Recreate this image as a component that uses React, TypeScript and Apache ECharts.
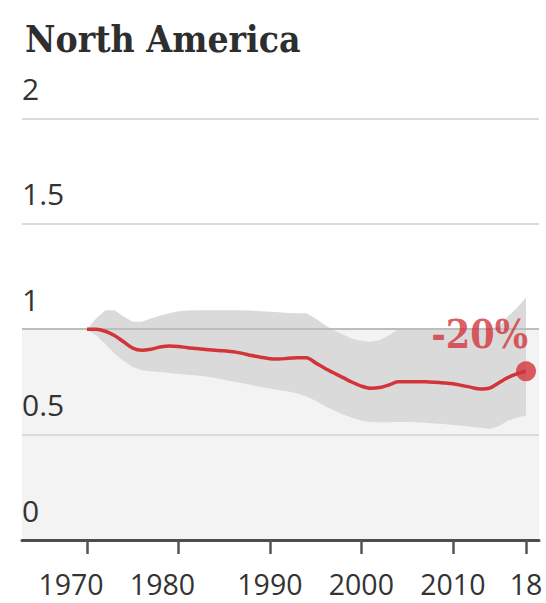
import React, { useEffect, useRef } from "react";
import * as echarts from "echarts";

const chartTitle = "North America";
const endLabel = "-20%";

const years = [
  1970, 1971, 1972, 1973, 1974, 1975, 1976, 1977, 1978, 1979,
  1980, 1981, 1982, 1983, 1984, 1985, 1986, 1987, 1988, 1989,
  1990, 1991, 1992, 1993, 1994, 1995, 1996, 1997, 1998, 1999,
  2000, 2001, 2002, 2003, 2004, 2005, 2006, 2007, 2008, 2009,
  2010, 2011, 2012, 2013, 2014, 2015, 2016, 2017, 2018,
];

const central = [
  1.0, 1.0, 0.99, 0.97, 0.94, 0.91, 0.9, 0.905, 0.915, 0.92,
  0.918, 0.912, 0.908, 0.903, 0.9, 0.897, 0.893, 0.885, 0.875, 0.867,
  0.86, 0.858, 0.862, 0.864, 0.864, 0.84, 0.815, 0.792, 0.77, 0.748,
  0.73, 0.72, 0.723, 0.735, 0.75, 0.75, 0.75, 0.75, 0.748, 0.745,
  0.741, 0.733, 0.724, 0.716, 0.72, 0.745, 0.77, 0.788, 0.8,
];

const upper = [
  1.0, 1.05, 1.09, 1.09, 1.06, 1.035, 1.035, 1.05, 1.065, 1.075,
  1.085, 1.088, 1.09, 1.09, 1.09, 1.09, 1.09, 1.09, 1.088, 1.085,
  1.083, 1.08, 1.077, 1.075, 1.075, 1.05, 1.02, 0.995, 0.975, 0.955,
  0.945, 0.94, 0.948, 0.97, 1.0, 1.005, 1.005, 1.005, 1.005, 1.005,
  1.005, 1.005, 1.005, 1.005, 1.005, 1.01, 1.06, 1.1, 1.15,
];

const lower = [
  1.0, 0.97, 0.93, 0.885, 0.85, 0.82, 0.805, 0.8, 0.797, 0.792,
  0.787, 0.784, 0.78, 0.775, 0.768, 0.76, 0.752, 0.744, 0.735, 0.726,
  0.718, 0.71, 0.704, 0.695, 0.68, 0.66, 0.635, 0.615, 0.595, 0.58,
  0.567, 0.56, 0.558, 0.558, 0.56, 0.56, 0.558, 0.556, 0.553, 0.55,
  0.546, 0.542, 0.537, 0.532, 0.527, 0.54, 0.565, 0.58, 0.59,
];

const yTicks = [0, 0.5, 1, 1.5, 2];
const xMin = 1962.893;
const xMax = 2019.4214;
const xTickYears = [1970, 1980, 1990, 2000, 2010, 2018];
const xTickLabels = ["1970", "1980", "1990", "2000", "2010", "18"];

export default function App() {
  const ref = useRef<HTMLDivElement>(null);

  useEffect(() => {
    if (!ref.current) return;
    const chart = echarts.init(ref.current, null, { renderer: "svg" });
    const red = "#d2343a";
    const shade = "#f3f3f3";
    const sans = "'Open Sans', 'Noto Sans', sans-serif";
    const serif = "'DejaVu Serif Condensed', 'DejaVu Serif', serif";

    const upperData = years.map((y, i) => [y, upper[i]]);
    const lowerData = years.map((y, i) => [y, lower[i]]);
    const centralData = years.map((y, i) => [y, central[i]]);
    const last = years.length - 1;

    chart.setOption({
      animation: false,
      title: {
        text: chartTitle,
        left: 20,
        top: 15,
        textStyle: {
          fontFamily: serif,
          fontWeight: "bold",
          fontSize: 37,
          color: "#2e2e2e",
        },
      },
      grid: {
        left: 22,
        right: 7,
        top: 118.3,
        bottom: 63,
        containLabel: false,
        outerBoundsMode: "none",
      },
      xAxis: {
        type: "value",
        min: xMin,
        max: xMax,
        z: 10,
        axisLine: {
          show: true,
          onZero: false,
          lineStyle: { color: "#4d4d4d", width: 3 },
        },
        axisTick: {
          show: true,
          customValues: xTickYears,
          length: 14,
          lineStyle: { color: "#555555", width: 2.5 },
        },
        axisLabel: {
          // an empty label at the axis start keeps 1970/1980 from the min-label overlap check
          customValues: [xMin, ...xTickYears],
          hideOverlap: false,
          margin: 32,
          fontSize: 28.5,
          lineHeight: 24,
          fontFamily: sans,
          color: "#333333",
          formatter: (v: number) => {
            const idx = xTickYears.indexOf(Math.round(v * 100) / 100);
            if (idx < 0) return "";
            const txt = xTickLabels[idx];
            return idx === 0 || idx === 1 ? `{s|${txt}}` : txt;
          },
          rich: {
            s: {
              fontSize: 28.5,
              lineHeight: 24,
              fontFamily: sans,
              color: "#333333",
              padding: [0, 32, 0, 0],
            },
          },
        },
        splitLine: { show: false },
      },
      yAxis: {
        type: "value",
        min: 0,
        max: 2,
        interval: 0.5,
        z: 10,
        axisLine: { show: false },
        axisTick: { show: false },
        splitLine: { show: false },
        axisLabel: {
          inside: true,
          margin: 0,
          align: "left",
          verticalAlign: "bottom",
          lineHeight: 60,
          fontSize: 30,
          fontFamily: sans,
          color: "#333333",
        },
      },
      series: [
        {
          name: "upper",
          type: "line",
          data: upperData,
          symbol: "none",
          silent: true,
          z: 2,
          lineStyle: { width: 0, opacity: 0 },
          areaStyle: { color: "#dadada", opacity: 1 },
          markArea: {
            silent: true,
            z: 1,
            itemStyle: { color: shade },
            data: [[{ yAxis: 0 }, { yAxis: 1 }]],
          },
        },
        {
          name: "lower",
          type: "line",
          data: lowerData,
          symbol: "none",
          silent: true,
          z: 3,
          lineStyle: { width: 0, opacity: 0 },
          areaStyle: { color: shade, opacity: 1 },
          markLine: {
            silent: true,
            z: 5,
            symbol: ["none", "none"],
            label: { show: false },
            data: yTicks
              .filter((v) => v > 0)
              .map((v) => ({
                yAxis: v,
                lineStyle: {
                  color: v === 1 ? "#bdbdbd" : "#dadada",
                  width: 2,
                  type: "solid",
                },
              })),
          },
        },
        {
          name: "central",
          type: "line",
          data: centralData,
          symbol: "none",
          smooth: 0.3,
          z: 6,
          lineStyle: { color: red, width: 3.5 },
        },
        {
          name: "end",
          type: "scatter",
          data: [[years[last], central[last]]],
          symbol: "circle",
          symbolSize: 20,
          z: 7,
          itemStyle: { color: red },
          label: {
            show: true,
            formatter: endLabel,
            position: "top",
            align: "right",
            verticalAlign: "bottom",
            distance: 8,
            offset: [2, 0],
            fontFamily: serif,
            fontWeight: "bold",
            fontSize: 39,
            color: red,
          },
        },
      ],
    });

    return () => chart.dispose();
  }, []);

  return (
    <div
      ref={ref}
      style={{ position: "absolute", left: 0, top: 0, width: 546, height: 603 }}
    />
  );
}
